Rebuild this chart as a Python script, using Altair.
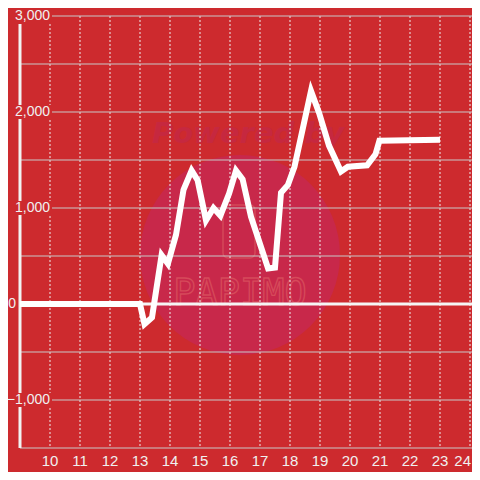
import altair as alt
import pandas as pd

# ---- data ----
hours = [9, 13.0, 13.15, 13.4, 13.72, 13.93, 14.2, 14.45, 14.72, 14.92,
         15.2, 15.45, 15.68, 15.97, 16.2, 16.42, 16.7, 17.27, 17.5, 17.7,
         17.93, 18.15, 18.7, 18.97, 19.3, 19.7, 19.93, 20.57, 20.85, 20.98, 23.0]
values = [0, 0, -210, -140, 510, 420, 720, 1190, 1390, 1290,
          870, 1000, 920, 1150, 1390, 1300, 910, 370, 380, 1160,
          1240, 1430, 2220, 1990, 1650, 1380, 1430, 1445, 1560, 1700, 1710]
x_ticks = list(range(10, 25))
y_grid = [-1500, -1000, -500, 0, 500, 1000, 1500, 2000, 2500, 3000]
y_labels = [3000, 2000, 1000, -1000]
zero_label = [0]

BG = "#cd2a2e"
FONT = "Liberation Sans"
W, H = 452, 432

line_df = pd.DataFrame({"hour": hours, "value": values})
xgrid_df = pd.DataFrame({"hour": x_ticks})
xlab_df = pd.DataFrame({"hour": x_ticks[:-1]})
xlast_df = pd.DataFrame({"hour": x_ticks[-1:]})
ygrid_df = pd.DataFrame({"value": y_grid})
ylab_df = pd.DataFrame({"value": y_labels})
zero_df = pd.DataFrame({"value": zero_label})
one = pd.DataFrame({"a": [0]})

xs = alt.Scale(domain=[9, 9 + W / 30.0], nice=False, zero=False)
ys = alt.Scale(domain=[-1500, 3000], nice=False, zero=False)
X = alt.X("hour:Q", scale=xs, axis=None)
Y = alt.Y("value:Q", scale=ys, axis=None)

# watermark
circle = alt.Chart(one).mark_circle(size=40000, color="#c8284a", opacity=1).encode(
    x=alt.value(220), y=alt.value(239))
powered = alt.Chart(one).mark_text(text="Powered by", fontSize=29, fontStyle="italic",
                                   fontWeight="bold", font="DejaVu Sans", color="#c6283f",
                                   baseline="alphabetic").encode(
    x=alt.value(228), y=alt.value(127))
papimo = alt.Chart(one).mark_text(text="PAPIMO", fontSize=37, font="DejaVu Sans Mono",
                                  fillOpacity=0, stroke="#d64a5a", strokeWidth=1.3,
                                  baseline="alphabetic").encode(
    x=alt.value(220), y=alt.value(289))
phone = alt.Chart(one).mark_rect(fillOpacity=0, stroke="#d4485a", strokeWidth=1.5,
                                 cornerRadius=5).encode(
    x=alt.value(203), x2=alt.value(235), y=alt.value(189), y2=alt.value(242))

xgrid = alt.Chart(xgrid_df).mark_rule(color="#eeeeee", strokeWidth=1, strokeDash=[2, 2]).encode(
    x=X, y=alt.value(0), y2=alt.value(H))
ygrid = alt.Chart(ygrid_df).mark_rule(color="#c8c8c8", strokeWidth=1).encode(
    y=Y, x=alt.value(0), x2=alt.value(W))

zero_rule = alt.Chart(zero_df).mark_rule(color="#f5f5f5", strokeWidth=3).encode(
    y=Y, x=alt.value(0), x2=alt.value(W))

yaxis_line = alt.Chart(one).mark_rule(color="#f2f2f2", strokeWidth=3).encode(
    x=alt.value(0), y=alt.value(8), y2=alt.value(H))

masks = alt.Chart(ylab_df).mark_rect(color=BG, yOffset=-7, y2Offset=7).encode(
    x=alt.value(-20), x2=alt.value(32), y=Y, y2="value:Q")

ylabels = alt.Chart(ylab_df).mark_text(align="right", baseline="middle", fontSize=14,
                                       font=FONT, color="#f0f0f0").encode(
    x=alt.value(30), y=Y, text=alt.Text("value:Q", format=","))

zlabel = alt.Chart(zero_df).mark_text(align="right", baseline="middle", fontSize=14,
                                      font=FONT, color="#f0f0f0").encode(
    x=alt.value(-4), y=Y, text=alt.Text("value:Q", format=","))

xlabels = alt.Chart(xlab_df).mark_text(align="center", baseline="middle", fontSize=15,
                                       font=FONT, color="#f0f0f0").encode(
    x=X, y=alt.value(H + 13), text=alt.Text("hour:Q"))
xlast = alt.Chart(xlast_df).mark_text(align="right", baseline="middle", fontSize=15,
                                      font=FONT, color="#f0f0f0").encode(
    x=alt.value(W - 1), y=alt.value(H + 13), text=alt.Text("hour:Q"))

line = alt.Chart(line_df).mark_line(color="#ffffff", strokeWidth=6).encode(x=X, y=Y)

chart = alt.layer(
    circle, powered, papimo, phone, xgrid, ygrid, zero_rule, yaxis_line,
    masks, ylabels, zlabel, xlabels, xlast, line
).properties(
    width=W, height=H,
    padding={"left": 12, "top": 8, "right": 0, "bottom": 24},
    autosize=alt.AutoSizeParams(type="none"),
    background=BG,
).configure_view(stroke=None)

chart.save("out.html", embed_options={"renderer": "svg", "actions": False})
